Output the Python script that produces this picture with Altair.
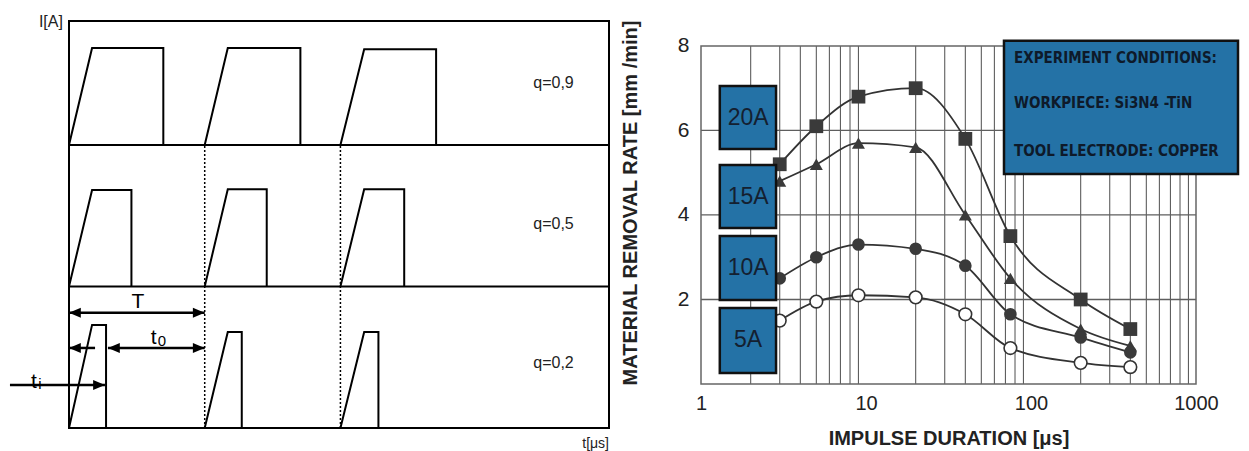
import altair as alt
import pandas as pd

# ---------------- left diagram (pulse trains) ----------------
row_labels = ["q=0,9", "q=0,5", "q=0,2"]
row_base = [2.086, 1.043, 0.0]          # baseline level of each row
pulse_start = [0.0, 10.0, 20.0]          # period T = 10
rise_end = [1.7, 1.7, 1.75]
pulse_fall = [[6.95, 7.05, 7.05], [4.6, 4.57, 4.7], [2.73, 2.73, 2.8]]
pulse_top = [[0.715, 0.715, 0.705], [0.711, 0.716, 0.716], [0.76, 0.708, 0.708]]
row_label_y = [2.54, 1.504, 0.479]
period_marks = [10.0, 20.0]
t_max = 39.79
lvl_max = 3.0

# arrows: T, t0, ti (left part), ti
arrow_x1 = [0.0, 2.87, 1.92, -4.35]
arrow_x2 = [10.0, 10.0, 0.0, 2.65]
arrow_y = [0.85, 0.59, 0.59, 0.317]
arrow_head_start = [True, True, False, False]
arrow_head_end = [True, True, True, True]

# ---------------- right chart data ----------------
impulse_us = [3, 5, 9, 20, 40, 75, 200, 400]
mrr_20A = [5.2, 6.1, 6.8, 7.0, 5.8, 3.5, 2.0, 1.3]
mrr_15A = [4.8, 5.2, 5.7, 5.6, 4.0, 2.5, 1.3, 0.9]
mrr_10A = [2.5, 3.0, 3.3, 3.2, 2.8, 1.65, 1.1, 0.75]
mrr_5A = [1.5, 1.95, 2.1, 2.05, 1.65, 0.85, 0.5, 0.4]
series_names = ["20A", "15A", "10A", "5A"]
x_ticks = [1, 10, 100, 1000]
y_ticks = [2, 4, 6, 8]
h_grid = [2, 4, 6]
v_grid = [m * d for d in (1, 10, 100) for m in range(2, 10)]

# label boxes (current) and info box
box_x1, box_x2, box_xc = 1.30, 2.85, 1.93
box_y1 = [5.56, 3.69, 1.99, 0.26]
box_y2 = [7.05, 5.18, 3.50, 1.80]
info_lines = ["EXPERIMENT CONDITIONS:", "WORKPIECE: Si3N4 -TiN", "TOOL ELECTRODE: COPPER"]
info_y = [7.72, 6.65, 5.51]
info_box = dict(x1=68.6, x2=1797, y1=4.97, y2=8.12, tx=78.9)

FONT = "Liberation Sans"
BLUE = "#2472a6"
DARK = "#3a3a3a"

# ======================= LEFT CHART =======================
xs_l = alt.Scale(domain=[0, t_max], nice=False, zero=False)
ys_l = alt.Scale(domain=[0, lvl_max], nice=False, zero=False)


def XL(f):
    return alt.X(f, type="quantitative", scale=xs_l, axis=None)


def YL(f):
    return alt.Y(f, type="quantitative", scale=ys_l, axis=None)


pts = []
for r in range(3):
    for p in range(3):
        s = pulse_start[p]
        b = row_base[r]
        h = pulse_top[r][p]
        f = pulse_fall[r][p]
        shape = [(s, b), (s + rise_end[p], b + h), (s + f, b + h), (s + f, b)]
        for i, (tx, iy) in enumerate(shape):
            pts.append({"pid": f"{r}-{p}", "i": i, "t": tx, "I": iy})
pulse_df = pd.DataFrame(pts)

frame_l = alt.Chart(pd.DataFrame({"a": [0], "b": [t_max], "c": [0], "d": [lvl_max]})).mark_rect(
    fillOpacity=0, stroke="black", strokeWidth=2
).encode(x=XL("a"), x2="b", y=YL("c"), y2="d")

div_df = pd.DataFrame({"y": row_base[:2], "a": [0, 0], "b": [t_max, t_max]})
dividers = alt.Chart(div_df).mark_rule(color="black", strokeWidth=2).encode(
    x=XL("a"), x2="b", y=YL("y")
)

dot_df = pd.DataFrame({"x": period_marks, "a": [0, 0], "b": [row_base[0]] * 2})
dotted = alt.Chart(dot_df).mark_rule(color="black", strokeWidth=1.5, strokeDash=[2, 2]).encode(
    x=XL("x"), y=YL("a"), y2="b"
)

pulses = alt.Chart(pulse_df).mark_line(color="black", strokeWidth=2, strokeJoin="miter").encode(
    x=XL("t"), y=YL("I"), detail="pid:N", order="i:Q"
)

arr_df = pd.DataFrame({"x1": arrow_x1, "x2": arrow_x2, "y": arrow_y})
shafts = alt.Chart(arr_df).mark_rule(color="black", strokeWidth=2.5).encode(
    x=XL("x1"), x2="x2", y=YL("y")
)

heads = []
for x1, x2, y, hs, he in zip(arrow_x1, arrow_x2, arrow_y, arrow_head_start, arrow_head_end):
    right = x2 > x1
    if he:
        heads.append({"x": x2, "y": y, "dir": "R" if right else "L"})
    if hs:
        heads.append({"x": x1, "y": y, "dir": "L" if right else "R"})
head_df = pd.DataFrame(heads)
head_r = alt.Chart(head_df[head_df["dir"] == "R"]).mark_point(
    shape="M0,0L-1,-0.42L-1,0.42Z", filled=True, color="black", size=560, opacity=1
).encode(x=XL("x"), y=YL("y"))
head_l = alt.Chart(head_df[head_df["dir"] == "L"]).mark_point(
    shape="M0,0L1,-0.42L1,0.42Z", filled=True, color="black", size=560, opacity=1
).encode(x=XL("x"), y=YL("y"))

qlab = alt.Chart(pd.DataFrame({"x": [35.7] * 3, "y": row_label_y, "s": row_labels})).mark_text(
    font=FONT, fontSize=16, color="#222", align="center", baseline="middle"
).encode(x=XL("x"), y=YL("y"), text="s:N")

big_txt = alt.Chart(pd.DataFrame({"x": [5.08, 6.23, -2.58], "y": [0.885, 0.619, 0.295], "s": ["T", "t", "t"]})).mark_text(
    font=FONT, fontSize=21, color="black", align="center", baseline="alphabetic"
).encode(x=XL("x"), y=YL("y"), text="s:N")
sub_txt = alt.Chart(pd.DataFrame({"x": [6.85, -2.15], "y": [0.608, 0.287], "s": ["0", "i"]})).mark_text(
    font=FONT, fontSize=15, color="black", align="center", baseline="alphabetic"
).encode(x=XL("x"), y=YL("y"), text="s:N")

ia_txt = alt.Chart(pd.DataFrame({"x": [-0.45], "y": [2.989], "s": ["I[A]"]})).mark_text(
    font=FONT, fontSize=16, color="#222", align="right", baseline="middle"
).encode(x=XL("x"), y=YL("y"), text="s:N")
tu_txt = alt.Chart(pd.DataFrame({"x": [t_max], "y": [-0.118], "s": ["t[μs]"]})).mark_text(
    font=FONT, fontSize=14, color="#222", align="right", baseline="middle"
).encode(x=XL("x"), y=YL("y"), text="s:N")

left = alt.layer(
    dividers, dotted, pulses, shafts, head_r, head_l, qlab, big_txt, sub_txt, ia_txt, tu_txt, frame_l
).properties(width=540, height=407)

# ======================= RIGHT CHART =======================
xs_r = alt.Scale(type="log", domain=[1, 1000], nice=False)
ys_r = alt.Scale(domain=[0, 8.59], nice=False, zero=False)

x_axis = alt.Axis(values=x_ticks, format="d", grid=False, ticks=False, domain=False,
                  labelFontSize=20, labelFont=FONT, labelColor="#222", labelPadding=9,
                  labelFlush=False,
                  title="IMPULSE DURATION [μs]", titleFont=FONT, titleFontSize=20,
                  titleFontWeight="bold", titleColor="#222", titlePadding=15)
y_axis = alt.Axis(values=y_ticks, grid=False, ticks=False, domain=False,
                  labelFontSize=21, labelFont=FONT, labelColor="#222", labelPadding=12,
                  labelFlush=False,
                  title="MATERIAL REMOVAL RATE [mm /min]", titleFont=FONT, titleFontSize=20,
                  titleFontWeight="bold", titleColor="#222", titlePadding=37)


def XR(f):
    return alt.X(f, type="quantitative", scale=xs_r, axis=x_axis)


def YR(f):
    return alt.Y(f, type="quantitative", scale=ys_r, axis=y_axis)


vg = alt.Chart(pd.DataFrame({"x": v_grid, "a": 0, "b": 8})).mark_rule(color="#5e5e5e", strokeWidth=1.1).encode(
    x=XR("x"), y=YR("a"), y2="b"
)
hg = alt.Chart(pd.DataFrame({"y": h_grid, "a": 1, "b": 1000})).mark_rule(color="#5e5e5e", strokeWidth=1.3).encode(
    y=YR("y"), x=XR("a"), x2="b"
)
frame_r = alt.Chart(pd.DataFrame({"a": [1], "b": [1000], "c": [0], "d": [8]})).mark_rect(
    fillOpacity=0, stroke="#666", strokeWidth=1.5
).encode(x=XR("a"), x2="b", y=YR("c"), y2="d")

recs = []
for name, vals in zip(series_names, [mrr_20A, mrr_15A, mrr_10A, mrr_5A]):
    for xv, yv in zip(impulse_us, vals):
        recs.append({"series": name, "dur": xv, "mrr": yv})
df = pd.DataFrame(recs)

lines = alt.Chart(df).mark_line(color="#333", strokeWidth=1.8, interpolate="monotone").encode(
    x=XR("dur"), y=YR("mrr"), detail="series:N"
)
sq = alt.Chart(df[df.series == "20A"]).mark_point(shape="square", filled=True, color=DARK, size=190, opacity=1).encode(
    x=XR("dur"), y=YR("mrr"))
tri = alt.Chart(df[df.series == "15A"]).mark_point(shape="triangle-up", filled=True, color=DARK, size=170, opacity=1).encode(
    x=XR("dur"), y=YR("mrr"))
cir = alt.Chart(df[df.series == "10A"]).mark_point(shape="circle", filled=True, color=DARK, size=160, opacity=1).encode(
    x=XR("dur"), y=YR("mrr"))
ocir = alt.Chart(df[df.series == "5A"]).mark_point(shape="circle", filled=True, fill="white", stroke="#333",
                                                   strokeWidth=1.6, size=160, opacity=1).encode(
    x=XR("dur"), y=YR("mrr"))

box_df = pd.DataFrame({"s": series_names, "x1": box_x1, "x2": box_x2, "xc": box_xc,
                       "y1": box_y1, "y2": box_y2})
box_df["yc"] = (box_df.y1 + box_df.y2) / 2
boxes = alt.Chart(box_df).mark_rect(fill=BLUE, stroke="#111", strokeWidth=2.5).encode(
    x=XR("x1"), x2="x2", y=YR("y1"), y2="y2")
box_txt = alt.Chart(box_df).mark_text(font=FONT, fontSize=23, color="#142030", align="center",
                                      baseline="middle").encode(x=XR("xc"), y=YR("yc"), text="s:N")

info_rect = alt.Chart(pd.DataFrame([info_box])).mark_rect(fill=BLUE, stroke="#111", strokeWidth=2.5).encode(
    x=XR("x1"), x2="x2", y=YR("y1"), y2="y2")
info_txt = alt.Chart(pd.DataFrame({"x": [info_box["tx"]] * 3, "y": info_y, "s": info_lines})).mark_text(
    font="Liberation Sans Narrow, DejaVu Sans Condensed, Liberation Sans", fontSize=15, fontWeight="bold",
    color="#0e1a2a", align="left", baseline="middle"
).encode(x=XR("x"), y=YR("y"), text="s:N")

right = alt.layer(vg, hg, frame_r, lines, sq, tri, cir, ocir, boxes, box_txt, info_rect, info_txt).properties(
    width=495, height=363)

chart = alt.hconcat(left, right, spacing=92, bounds="flush").properties(
    padding={"left": 8, "top": 14, "right": 0, "bottom": 0},
    background="white",
).configure_view(stroke=None)

chart.save("out.html", embed_options={"renderer": "svg", "actions": False})
